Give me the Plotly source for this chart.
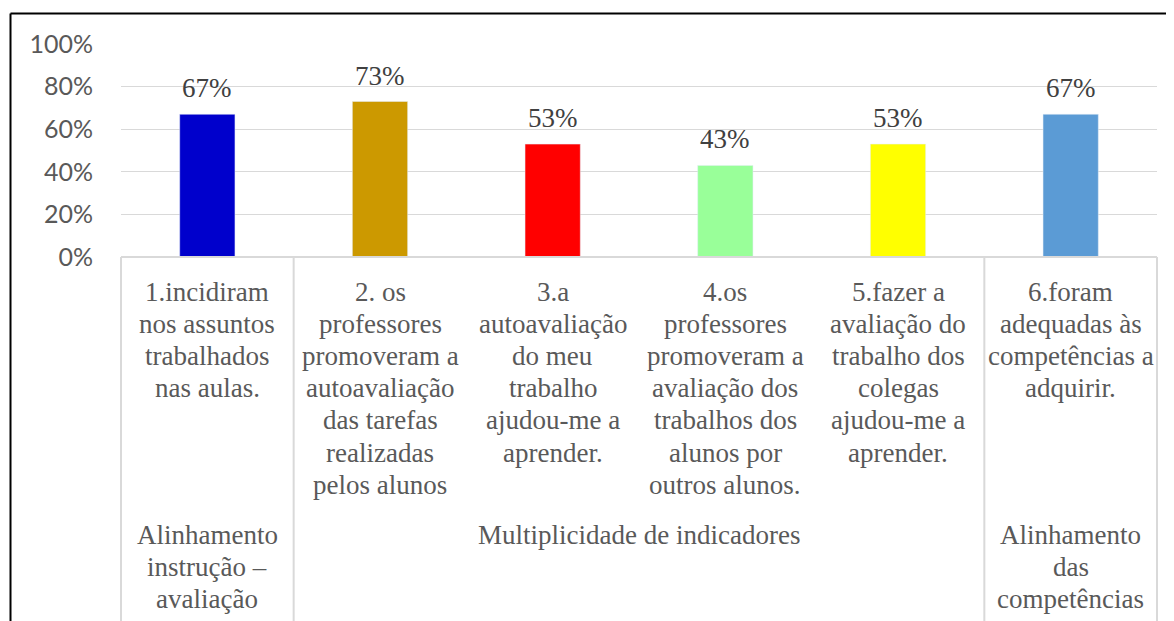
import plotly.graph_objects as go

# question labels (one line per row, as in the original)
labels = [
    "1.incidiram\nnos assuntos\ntrabalhados\nnas aulas.",
    "2. os\nprofessores\npromoveram a\nautoavaliação\ndas tarefas\nrealizadas\npelos alunos",
    "3.a\nautoavaliação\ndo meu\ntrabalho\najudou-me a\naprender.",
    "4.os\nprofessores\npromoveram a\navaliação dos\ntrabalhos dos\nalunos por\noutros alunos.",
    "5.fazer a\navaliação do\ntrabalho dos\ncolegas\najudou-me a\naprender.",
    "6.foram\nadequadas às\ncompetências a\nadquirir.",
]
ids = ["q1", "q2", "q3", "q4", "q5", "q6"]
values = [0.67, 0.73, 0.53, 0.43, 0.53, 0.67]
colors = ["#0000CC", "#CC9900", "#FF0000", "#99FF99", "#FFFF00", "#5B9BD5"]

groups = ["Alinhamento\ninstrução –\navaliação", "Multiplicidade de indicadores",
          "Alinhamento\ndas\ncompetências"]
group_sizes = [1, 4, 1]

# page shows the figure with an 8px body margin
OFF = 8
W, H = 1174, 621
L, T = 121 - OFF, 44 - OFF
PLOT_R, PLOT_B = 1157 - OFF, 257.5 - OFF
R, B = W - PLOT_R, H - PLOT_B
PW, PH = PLOT_R - L, PLOT_B - T
GRAY = "#595959"
LINE = "#D9D9D9"
SERIF = "Liberation Serif"
LH = 32.2  # text line height in px

fig = go.Figure(go.Bar(x=ids, y=values, marker_color=colors, width=0.32,
                       hoverinfo="skip"))

ann = []
# value labels above bars
for i, v in zip(ids, values):
    ann.append(dict(x=i, y=v, xref="x", yref="y", text=f"{round(v*100)}%",
                    showarrow=False, xanchor="center", yanchor="middle", yshift=26,
                    font=dict(family=SERIF, size=27, color="#404040")))

# category labels, line by line
for i, lab in zip(ids, labels):
    for j, line in enumerate(lab.split("\n")):
        ann.append(dict(x=i, y=0, xref="x", yref="paper", text=line,
                        showarrow=False, xanchor="center", yanchor="middle",
                        yshift=-(292 - 257.5) - j * LH,
                        font=dict(family=SERIF, size=27, color=GRAY)))

# group labels
n = len(ids)
start = 0
shapes = []
bounds = [0]
for g, s in zip(groups, group_sizes):
    cx = (start + s / 2) / n
    for j, line in enumerate(g.split("\n")):
        ann.append(dict(x=cx, y=0, xref="paper", yref="paper", text=line,
                        showarrow=False, xanchor="center", yanchor="middle",
                        yshift=-(535 - 257.5) - j * LH,
                        font=dict(family=SERIF, size=27, color=GRAY)))
    start += s
    bounds.append(start)

ybot = -(B + 10) / PH
for b in bounds:
    shapes.append(dict(type="line", xref="paper", yref="paper", x0=b / n, x1=b / n,
                       y0=0, y1=ybot, line=dict(color=LINE, width=2)))
shapes.append(dict(type="line", xref="paper", yref="paper", x0=0, x1=1, y0=0, y1=0,
                   line=dict(color=LINE, width=2)))

# outer frame (left and top edges visible)
fx = (10.5 - OFF - L) / PW
fy = (PLOT_B - (13.5 - OFF)) / PH
shapes.append(dict(type="line", xref="paper", yref="paper", x0=fx, x1=fx, y0=fy, y1=ybot,
                   line=dict(color="black", width=2)))
shapes.append(dict(type="line", xref="paper", yref="paper", x0=fx, x1=(W + 10 - L) / PW,
                   y0=fy, y1=fy, line=dict(color="black", width=2)))

fig.update_layout(
    width=W, height=H,
    margin=dict(l=L, r=R, t=T, b=B),
    plot_bgcolor="white", paper_bgcolor="white",
    showlegend=False,
    annotations=ann, shapes=shapes,
)
fig.update_xaxes(type="category", showticklabels=False, showgrid=False,
                 showline=False, zeroline=False, range=[-0.5, 5.5])
fig.update_yaxes(range=[0, 1], tickvals=[0, 0.2, 0.4, 0.6, 0.8, 1.0], tickformat=".0%",
                 showgrid=True, gridcolor=LINE, gridwidth=1.3, zeroline=False,
                 showline=False, ticklabelstandoff=27,
                 tickfont=dict(family="Lato", size=25, color=GRAY))

fig.write_html("out.html")
